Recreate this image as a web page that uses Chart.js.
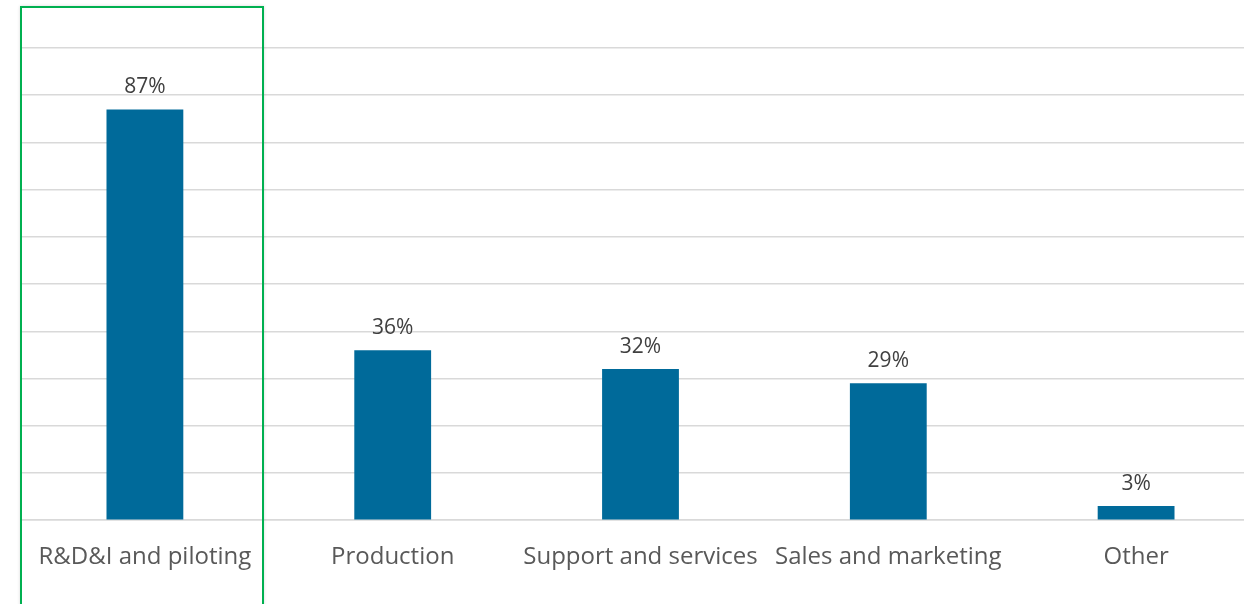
<!DOCTYPE html>
<html>
<head>
<meta charset="utf-8">
<script src="https://cdn.jsdelivr.net/npm/chart.js@4"></script>
<style>
  html, body { margin: 0; padding: 0; background: #fff; overflow: hidden; }
  #wrap { position: relative; width: 1260px; height: 604px; }
  #highlight {
    position: absolute; left: 20px; top: 6px; width: 240px; height: 620px;
    border: 2px solid #00b050; box-shadow: 0 0 3px rgba(0,0,0,0.15);
    pointer-events: none;
  }
</style>
</head>
<body>
<div id="wrap">
  <canvas id="chart" width="1260" height="604"></canvas>
  <div id="highlight"></div>
</div>
<script>
const categories = ['R&D&I and piloting', 'Production', 'Support and services', 'Sales and marketing', 'Other'];
const shares = [87, 36, 32, 29, 3];

const valueLabels = {
    id: 'valueLabels',
    afterDatasetsDraw(chart) {
        const ctx = chart.ctx;
        const meta = chart.getDatasetMeta(0);
        ctx.save();
        ctx.font = '21px "Open Sans"';
        ctx.fillStyle = '#404040';
        ctx.textAlign = 'center';
        ctx.textBaseline = 'alphabetic';
        meta.data.forEach(function (bar, i) {
            ctx.fillText(shares[i] + '%', bar.x, bar.y - 16);
        });
        ctx.restore();
    }
};

new Chart(document.getElementById('chart'), {
    type: 'bar',
    data: {
        labels: categories,
        datasets: [{
            data: shares,
            backgroundColor: '#006a9a',
            categoryPercentage: 1,
            barPercentage: 0.31
        }]
    },
    options: {
        responsive: false,
        animation: false,
        layout: { padding: { left: 21, right: 0, top: 48, bottom: 17 } },
        plugins: {
            legend: { display: false },
            tooltip: { enabled: false }
        },
        scales: {
            y: {
                min: 0,
                max: 100,
                ticks: { display: false, stepSize: 10 },
                grid: { color: '#d9d9d9', lineWidth: 1.5, drawTicks: false },
                border: { display: false }
            },
            x: {
                grid: { display: false },
                border: { color: '#d9d9d9', width: 1.5 },
                ticks: {
                    color: '#595959',
                    font: { family: '"Open Sans"', size: 24 },
                    padding: 15,
                    maxRotation: 0,
                    autoSkip: false
                }
            }
        }
    },
    plugins: [valueLabels]
});
</script>
</body>
</html>
